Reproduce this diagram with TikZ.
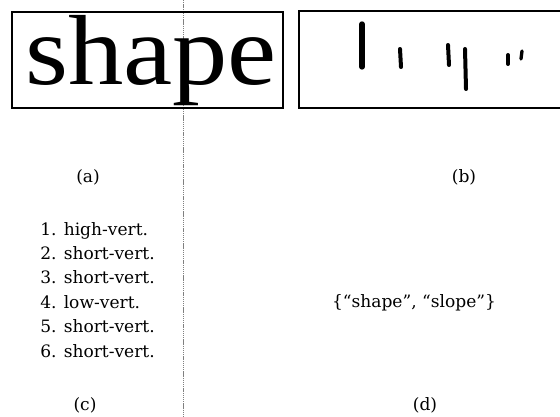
\documentclass[tikz,border=0pt]{standalone}
\usepackage{fontspec}
\setmainfont{DejaVu Serif}
\newfontfamily\wordfont{Liberation Serif}
\usetikzlibrary{calc}
\tikzset{
   framebox/.style={draw, line width=1pt, inner sep=0pt},
   bigword/.style={anchor=base west, inner sep=0pt, xscale=1.11, font=\wordfont\fontsize{74.7}{80}\selectfont},
   listline/.style={anchor=base west, inner sep=0pt, font=\fontsize{12.8}{15}\selectfont},
   caption/.style={inner sep=0pt, font=\fontsize{12.8}{15}\selectfont},
   blot/.style={line width=3pt, line cap=round},
}

\begin{document}
\begin{tikzpicture}[x=0.75pt,y=-0.75pt]
   \useasboundingbox (0,0) rectangle (560,417);
   \draw[gray, line width=0.4pt, dash pattern=on 1pt off 0.6pt] (183,0) -- (183,417);

   % (a) the word
   \node[framebox, minimum width=203.25pt, minimum height=72pt] (boxa) at (147.5,60) {};
   \node[bigword] (word) at (25,85) {shape};
   \node[caption] (capa) at (88,177) {(a)};

   % (b) vertical strokes only
   \node[framebox, minimum width=200.25pt, minimum height=72.75pt] (boxb) at (432.5,59.5) {};
   \draw[blot, line width=4pt] (362,24) -- (362,67);
   \draw[blot] (400,49) -- (401,67);
   \draw[blot] (448,45) -- (449,65);
   \draw[blot] (465,49) -- (466,89);
   \draw[blot] (508,55) -- (508,64);
   \draw[blot, line width=2.5pt] (522,51) -- (521,59);
   \node[caption] (capb) at (464,177) {(b)};

   % (c) stroke list
   \node[listline] (l1) at ($(40,235)+0*(0,24.4)$) {1. high-vert.};
   \node[listline] (l2) at ($(40,235)+1*(0,24.4)$) {2. short-vert.};
   \node[listline] (l3) at ($(40,235)+2*(0,24.4)$) {3. short-vert.};
   \node[listline] (l4) at ($(40,235)+3*(0,24.4)$) {4. low-vert.};
   \node[listline] (l5) at ($(40,235)+4*(0,24.4)$) {5. short-vert.};
   \node[listline] (l6) at ($(40,235)+5*(0,24.4)$) {6. short-vert.};
   \node[caption] (capc) at (85,405) {(c)};

   % (d) candidate words
   \node[caption] (words) at (414,303) {\{“shape”, “slope”\}};
   \node[caption] (capd) at (425,405) {(d)};
\end{tikzpicture}
\end{document}
